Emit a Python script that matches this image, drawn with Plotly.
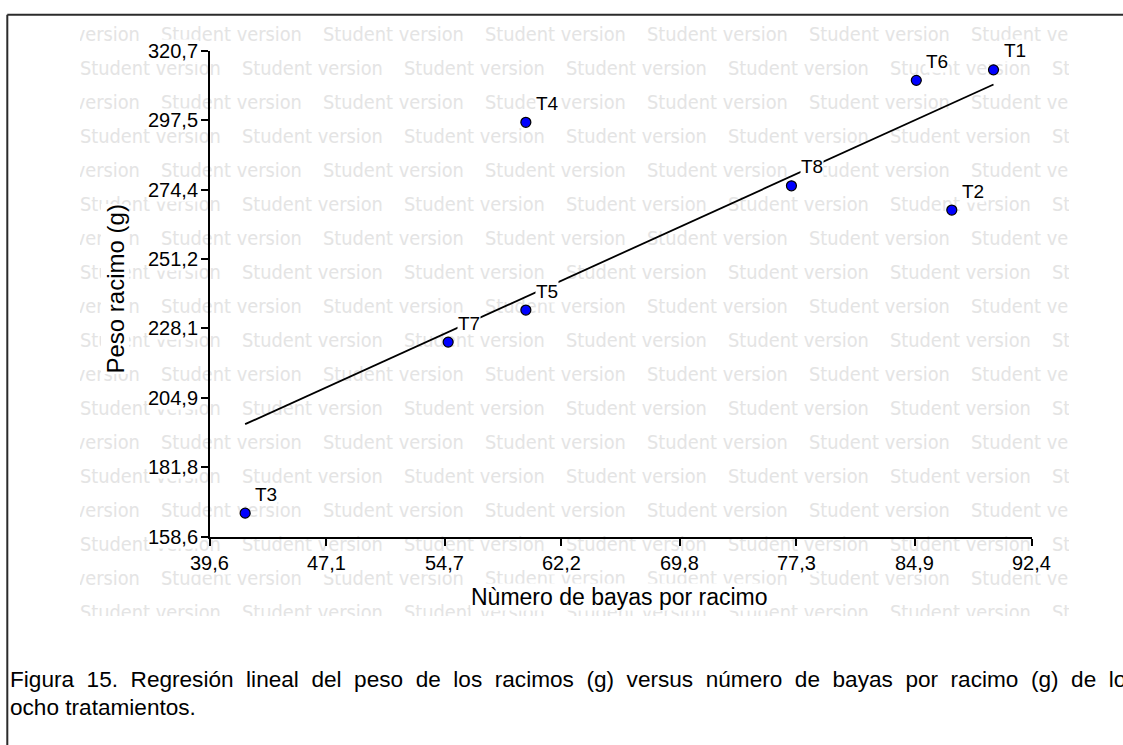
import numpy as np
import plotly.graph_objects as go

W, H = 1123, 745

# Treatments: berries per bunch vs bunch weight (g)
tratamientos = ["T1", "T2", "T3", "T4", "T5", "T6", "T7", "T8"]
bayas = [89.96, 87.28, 41.89, 59.92, 59.92, 85.00, 54.93, 76.98]
peso = [314.4, 267.6, 166.4, 296.9, 234.2, 310.9, 223.5, 275.7]

x_ticks = [39.6, 47.1, 54.7, 62.2, 69.8, 77.3, 84.9, 92.4]
y_ticks = [158.6, 181.8, 204.9, 228.1, 251.2, 274.4, 297.5, 320.7]

x_title = "Nùmero de bayas por racimo"
y_title = "Peso racimo (g)"
caption_1 = ["Figura", "15.", "Regresión", "lineal", "del", "peso", "de", "los", "racimos",
             "(g)", "versus", "número", "de", "bayas", "por", "racimo", "(g)", "de", "los"]
caption_2 = "ocho tratamientos."


def comma(v):
    return f"{v:.1f}".replace(".", ",")


# least-squares regression line over the observed range
slope, intercept = np.polyfit(bayas, peso, 1)
fit_x = np.array([min(bayas), max(bayas)])
fit_y = slope * fit_x + intercept

def px(x):
    return x / W

def py(y):
    return 1 - y / H

FONT = "Liberation Sans, Arial, sans-serif"
AX_LEFT, AX_RIGHT, AX_TOP, AX_BOTTOM = 209.5, 1031.5, 51, 536.5

fig = go.Figure()

# background watermark, laid out on a pixel-based helper axis pair (x / y)
wm_x, wm_y, wm_t = [], [], []
for r in range(18):
    yy = 36 + 34 * r
    start = -1 if r % 2 == 0 else 80
    xx = start
    while xx < 1069:
        wm_x.append(xx)
        wm_y.append(yy)
        wm_t.append("Student version")
        xx += 162
fig.add_trace(go.Scatter(
    x=wm_x, y=wm_y, text=wm_t, mode="text", textposition="middle right",
    textfont=dict(family="DejaVu Sans Condensed, DejaVu Sans", size=19.8, color="#e4e4e4"),
    hoverinfo="skip", showlegend=False, cliponaxis=True, xaxis="x", yaxis="y",
))

# regression line
fig.add_trace(go.Scatter(
    x=fit_x, y=fit_y, mode="lines", line=dict(color="black", width=1.8),
    showlegend=False, xaxis="x2", yaxis="y2",
))

# treatment points
fig.add_trace(go.Scatter(
    x=bayas, y=peso, mode="markers",
    marker=dict(size=10, color="#0000ff", line=dict(color="black", width=1.2)),
    showlegend=False, xaxis="x2", yaxis="y2",
))

annotations = []

# point labels (white boxes cover the watermark and the fit line beneath)
for name, xv, yv in zip(tratamientos, bayas, peso):
    annotations.append(dict(
        x=xv, y=yv, xref="x2", yref="y2", text=name, showarrow=False,
        xanchor="left", yanchor="middle", xshift=9, yshift=19,
        bgcolor="white", borderpad=0,
        font=dict(family=FONT, size=19, color="black"),
    ))

# tick labels drawn on white boxes
for v in x_ticks:
    annotations.append(dict(
        x=v, y=py(AX_BOTTOM), xref="x2", yref="paper", text=comma(v), showarrow=False,
        xanchor="center", yanchor="middle", yshift=-26.5,
        bgcolor="white", borderpad=0,
        font=dict(family=FONT, size=20, color="black"),
    ))
for v in y_ticks:
    annotations.append(dict(
        x=px(AX_LEFT), y=v, xref="paper", yref="y2", text=comma(v), showarrow=False,
        xanchor="right", yanchor="middle", xshift=-11,
        bgcolor="white", borderpad=0,
        font=dict(family=FONT, size=20, color="black"),
    ))

annotations.append(dict(
    x=px(619.5), y=py(597), xref="paper", yref="paper", text=x_title, showarrow=False,
    xanchor="center", yanchor="middle", bgcolor="white", borderpad=0,
    font=dict(family=FONT, size=23, color="black"),
))
annotations.append(dict(
    x=px(115), y=py(289.5), xref="paper", yref="paper", text=y_title, showarrow=False,
    textangle=-90, xanchor="center", yanchor="middle", bgcolor="white", borderpad=0,
    font=dict(family=FONT, size=24, color="black"),
))

annotations.append(dict(
    x=px(8), y=py(679), xref="paper", yref="paper",
    text="\u00a0 ".join(caption_1), showarrow=False,
    xanchor="left", yanchor="middle", align="left",
    font=dict(family=FONT, size=22.6, color="black"),
))
annotations.append(dict(
    x=px(8), y=py(707), xref="paper", yref="paper", text=caption_2, showarrow=False,
    xanchor="left", yanchor="middle", align="left",
    font=dict(family=FONT, size=22.6, color="black"),
))

axis_common = dict(
    showgrid=False, zeroline=False, showline=True, linecolor="black", linewidth=2,
    ticks="outside", ticklen=7, tickwidth=1.5, tickcolor="black", automargin=False,
    showticklabels=False,
)

fig.update_layout(
    template="none",
    width=W, height=H, autosize=False,
    margin=dict(l=0, r=0, t=0, b=0, pad=0, autoexpand=False),
    paper_bgcolor="white", plot_bgcolor="rgba(0,0,0,0)",
    xaxis=dict(domain=[px(80), px(1069)], range=[80, 1069], visible=False,
               fixedrange=True, automargin=False),
    yaxis=dict(domain=[py(616), py(20)], range=[616, 20], visible=False,
               fixedrange=True, automargin=False),
    xaxis2=dict(
        domain=[px(AX_LEFT), px(AX_RIGHT)], anchor="y2", range=[x_ticks[0], x_ticks[-1]],
        tickvals=x_ticks, **axis_common,
    ),
    yaxis2=dict(
        domain=[py(AX_BOTTOM), py(AX_TOP)], anchor="x2", range=[y_ticks[0], y_ticks[-1]],
        tickvals=y_ticks, **axis_common,
    ),
    annotations=annotations,
    shapes=[
        dict(type="line", xref="paper", yref="paper", x0=px(7.3), x1=px(7.3),
             y0=py(14.7), y1=0, line=dict(color="#2b2b2b", width=2)),
        dict(type="line", xref="paper", yref="paper", x0=px(7.3), x1=1,
             y0=py(14.7), y1=py(14.7), line=dict(color="#2b2b2b", width=2)),
    ],
)

fig.write_html("out.html")
